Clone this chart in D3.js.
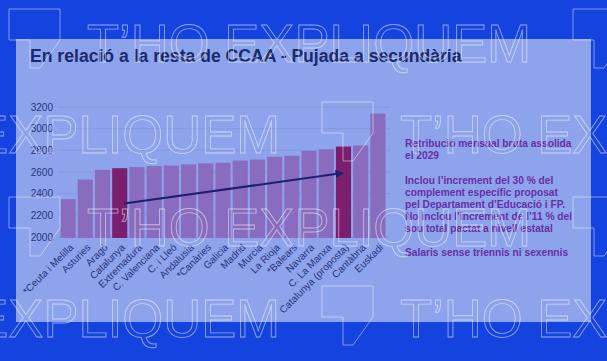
<!DOCTYPE html>
<html><head><meta charset="utf-8">
<script src="https://cdn.jsdelivr.net/npm/d3@7"></script>
<style>html,body{margin:0;padding:0;background:#1443e0;}svg{display:block;}</style>
</head><body>
<svg id="chart" width="607" height="361"></svg>
<script>
// ---- data ----
const categories = ["*Ceuta i Melilla","Asturies","Aragó","Catalunya","Extremadura","C. Valenciana","C. i Lleó","Andalusia","*Canàries","Galicia","Madrid","Murcia","La Rioja","*Balears","Navarra","C. La Manxa","Catalunya (proposta)","Cantàbria","Euskadi"];
const values = [2350,2530,2620,2635,2645,2655,2660,2670,2680,2685,2705,2715,2740,2750,2795,2810,2835,2845,3140];
const highlighted = ["Catalunya","Catalunya (proposta)"];
const yTicks = [2000,2200,2400,2600,2800,3000,3200];
const arrowFrom = {cat:"Catalunya", value:2310, at:0.8};
const arrowTo = {cat:"Catalunya (proposta)", value:2590, at:0.45};
const title = "En relació a la resta de CCAA - Pujada a secundària";
const notes = [
  ["Retribució mensual bruta assolida","el 2029"],
  ["Inclou l’increment del 30 % del","complement específic proposat","pel Departament d’Educació i FP.","No inclou l’increment de l’11 % del","sou total pactat a nivell estatal"],
  ["Salaris sense triennis ni sexennis"]
];
const watermarkWord = "T’HO EXPLIQUEM";

// ---- drawing ----
const svg = d3.select("#chart");
svg.append("rect").attr("width",607).attr("height",361).attr("fill","#1443e0");
svg.append("rect").attr("x",16).attr("y",39).attr("width",575).attr("height",283).attr("fill","#8da3ec");

svg.append("text").attr("x",30).attr("y",62).text(title)
  .attr("font-family","Liberation Sans, Arial, sans-serif").attr("font-weight","bold")
  .attr("font-size",17.6).attr("fill","#1b2a6b");

const x = d3.scaleBand().domain(categories).range([59.5,386.5]).paddingInner(0.12).paddingOuter(0.06);
const y = d3.scaleLinear().domain([2000,3200]).range([237,107]);

// grid
svg.append("g").selectAll("line").data(yTicks).join("line")
  .attr("x1",58).attr("x2",390).attr("y1",d=>y(d)).attr("y2",d=>y(d))
  .attr("stroke","#8396da").attr("stroke-width",0.8);

// y axis
const yAxis = d3.axisLeft(y).tickValues(yTicks).tickSize(0).tickPadding(0).tickFormat(d3.format("d"));
const gy = svg.append("g").attr("transform","translate(53,0)").call(yAxis);
gy.select(".domain").remove();
gy.selectAll("text").attr("font-family","Liberation Sans, Arial, sans-serif").attr("font-size",10).attr("fill","#26357f");

// bars
svg.append("g").selectAll("rect").data(categories).join("rect")
  .attr("x",d=>x(d)).attr("width",x.bandwidth())
  .attr("y",(d,i)=>y(values[i])).attr("height",(d,i)=>y(2000)-y(values[i])+1)
  .attr("fill",d=>highlighted.includes(d)?"#7a1f6f":"#8a6cbf");

// x axis labels
const xAxis = d3.axisBottom(x).tickSize(0).tickPadding(0);
const gx = svg.append("g").attr("transform","translate(0,238)").call(xAxis);
gx.select(".domain").remove();
gx.selectAll("text")
  .attr("font-family","Liberation Sans, Arial, sans-serif").attr("font-size",10).attr("fill","#26357f")
  .attr("text-anchor","end").attr("dy",0).attr("y",0)
  .attr("transform","translate(6,10) rotate(-45)");

// arrow
const defs = svg.append("defs");
defs.append("marker").attr("id","ah").attr("viewBox","0 0 10 10").attr("refX",9).attr("refY",5)
  .attr("markerWidth",4).attr("markerHeight",4).attr("orient","auto")
  .append("path").attr("d","M0,0 L10,5 L0,10 Z").attr("fill","#1b1f6e");
svg.append("line")
  .attr("x1",x(arrowFrom.cat)+x.bandwidth()*arrowFrom.at).attr("y1",y(arrowFrom.value))
  .attr("x2",x(arrowTo.cat)+x.bandwidth()*arrowTo.at).attr("y2",y(arrowTo.value))
  .attr("stroke","#1b1f6e").attr("stroke-width",2).attr("marker-end","url(#ah)");

// notes
const noteBaselines = [[147,159],[184,196,208,220,232],[256]];
const gn = svg.append("g").attr("font-family","Liberation Sans, Arial, sans-serif").attr("font-weight","bold")
  .attr("font-size",10.2).attr("fill","#6a2fa3");
notes.forEach((blk,bi)=>blk.forEach((line,li)=>{
  gn.append("text").attr("x",405).attr("y",noteBaselines[bi][li]).text(line);
}));

// watermark overlay
const wm = svg.append("g").attr("fill","none").attr("stroke","#ffffff").attr("stroke-opacity",0.5).attr("stroke-width",0.9);
const bubble = "M0,0 H51 V31 L31,59 H21 V31 H0 Z";
const rows = [
  {bub:[[9,9],[573,9]], txt:[87], base:62},
  {bub:[[322,102]], txt:[-164,400], base:153},
  {bub:[[9,197],[573,197]], txt:[87], base:246},
  {bub:[[322,286]], txt:[-164,400], base:337}
];
rows.forEach(r=>{
  r.bub.forEach(([bx,by])=>wm.append("path").attr("d",bubble).attr("transform",`translate(${bx},${by})`));
  r.txt.forEach(tx=>wm.append("text").attr("x",tx).attr("y",r.base).text(watermarkWord)
    .attr("font-family","Liberation Sans, Arial, sans-serif").attr("font-size",54)
    .attr("textLength",444).attr("lengthAdjust","spacingAndGlyphs"));
});
</script>
</body></html>
